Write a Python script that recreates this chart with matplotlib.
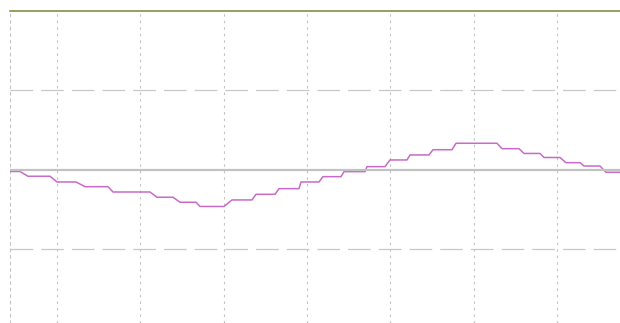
import matplotlib
matplotlib.use("Agg")
import matplotlib.pyplot as plt

plt.rcParams['lines.scale_dashes'] = False

# staircase trace: each step is (start, end, level)
step_start = [-0.564, -0.348, 0.000, 0.336, 0.672, 1.200, 1.476, 1.716,
              2.100, 2.388, 2.664, 2.928, 3.192, 3.444, 3.720, 3.996,
              4.236, 4.512, 4.788, 5.340, 5.604, 5.844, 6.108, 6.324, 6.588]
step_end = [-0.444, -0.084, 0.228, 0.612, 1.116, 1.392, 1.668, 2.004,
            2.340, 2.616, 2.904, 3.144, 3.408, 3.696, 3.936, 4.200,
            4.464, 4.740, 5.280, 5.544, 5.796, 6.036, 6.276, 6.516, 6.756]
step_level = [-0.019, -0.079, -0.151, -0.210, -0.277, -0.343, -0.406, -0.459,
              -0.377, -0.306, -0.235, -0.151, -0.084, -0.021, 0.042, 0.126,
              0.189, 0.255, 0.336, 0.268, 0.208, 0.157, 0.092, 0.050, -0.029]

x_ticks = [0, 1, 2, 3, 4, 5, 6]
y_ticks = [-1, 1]
x_range = (-0.564, 6.756)
y_range = (-1.925, 2.0)

xs, ys = [], []
for a, b, v in zip(step_start, step_end, step_level):
    xs += [a, b]
    ys += [v, v]

fig = plt.figure(figsize=(6.2, 3.23), dpi=100)
ax = fig.add_axes([10 / 620, 0, 610 / 620, 312 / 323])
ax.set_xlim(*x_range)
ax.set_ylim(*y_range)

ax.plot(xs, ys, color='#c86ac8', lw=1.1, zorder=3)
ax.axhline(0, color='#c2c2c2', lw=1.6, zorder=4)

ax.set_xticks(x_ticks)
ax.set_yticks(y_ticks)
ax.tick_params(length=0, labelbottom=False, labelleft=False)
ax.xaxis.grid(True, color='#c4c4c4', lw=0.8, linestyle=(0, (1.8, 2.9)))
ax.yaxis.grid(True, color='#c8c8c8', lw=0.9, linestyle=(0, (16.3, 5.8)))

for side in ('right', 'bottom'):
    ax.spines[side].set_visible(False)
ax.spines['top'].set_color('#7d8630')
ax.spines['top'].set_linewidth(1.1)
ax.spines['left'].set_color('#c4c4c4')
ax.spines['left'].set_linewidth(0.8)
ax.spines['left'].set_linestyle((0, (1.8, 2.9)))

fig.savefig('out.png', dpi=100)
